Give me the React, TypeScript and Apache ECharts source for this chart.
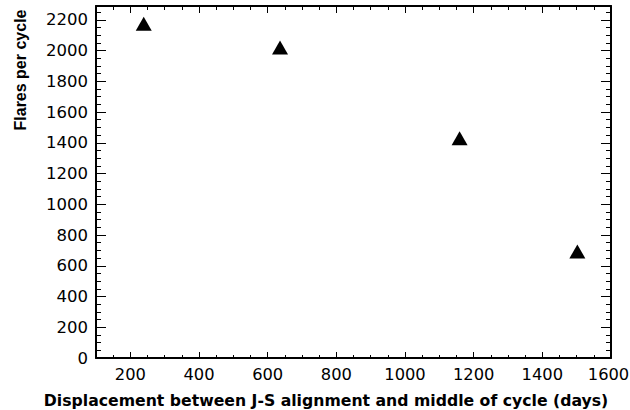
import React, { useEffect, useRef } from "react";
import * as echarts from "echarts";

// Data
const displacementDays = [239, 636, 1159, 1502];
const flaresPerCycle = [2175, 2020, 1430, 693];

const X_MIN = 100;
const X_MAX = 1600;
const Y_MIN = 0;
const Y_MAX = 2290;
const Y_MAJOR = 200;
const MINOR = 50;

const X_TITLE = "Displacement between J-S alignment and middle of cycle (days)";
const Y_TITLE = "Flares per cycle";

const LABEL_FONT = "DejaVu Sans";

export default function App() {
  const ref = useRef<HTMLDivElement>(null);

  useEffect(() => {
    if (!ref.current) return;
    const chart = echarts.init(ref.current, undefined, { renderer: "svg" });

    const line = { show: true, onZero: false, lineStyle: { color: "#000", width: 2 } };
    const noLine = { show: false, onZero: false };
    const tick = (len: number) => ({ show: true, inside: true, length: len, lineStyle: { color: "#000", width: 1 } });
    const noLabel = { show: false };
    const plain = (v: number) => String(v);
    const xLabel = (v: number) => (v >= X_MAX ? `{last|${v}}` : String(v));

    const xBase = { type: "value" as const, min: X_MIN, max: X_MAX, splitLine: { show: false }, gridIndex: 0 };
    const yBase = { type: "value" as const, min: Y_MIN, max: Y_MAX, splitLine: { show: false }, gridIndex: 0 };

    const data = displacementDays.map((x, i) => [x, flaresPerCycle[i]]);

    chart.setOption({
      animation: false,
      backgroundColor: "#fff",
      grid: { left: 96, right: 19, top: 6, bottom: 52, containLabel: false, outerBoundsMode: "none" },
      xAxis: [
        {
          ...xBase,
          position: "bottom",
          splitNumber: 7,
          axisLine: line,
          axisTick: tick(6),
          axisLabel: {
            show: true,
            showMinLabel: false,
            showMaxLabel: true,
            hideOverlap: false,
            formatter: xLabel,
            fontSize: 16.3,
            fontFamily: LABEL_FONT,
            color: "#000",
            margin: 8,
            rich: {
              last: {
                fontSize: 16.3,
                fontFamily: LABEL_FONT,
                color: "#000",
                padding: [0, 5, 0, 0],
              },
            },
          },
        },
        { ...xBase, position: "bottom", interval: MINOR, axisLine: noLine, axisTick: tick(3), axisLabel: noLabel },
        { ...xBase, position: "top", splitNumber: 7, axisLine: line, axisTick: tick(7), axisLabel: noLabel },
        { ...xBase, position: "top", interval: MINOR, axisLine: noLine, axisTick: tick(4), axisLabel: noLabel },
      ],
      yAxis: [
        {
          ...yBase,
          position: "left",
          interval: Y_MAJOR,
          axisLine: line,
          axisTick: tick(10),
          axisLabel: {
            show: true,
            showMaxLabel: false,
            formatter: plain,
            fontSize: 16.5,
            fontFamily: LABEL_FONT,
            color: "#000",
            margin: 8,
          },
        },
        { ...yBase, position: "left", interval: MINOR, axisLine: noLine, axisTick: tick(5), axisLabel: noLabel },
        { ...yBase, position: "right", interval: Y_MAJOR, axisLine: line, axisTick: tick(10), axisLabel: noLabel },
        { ...yBase, position: "right", interval: MINOR, axisLine: noLine, axisTick: tick(5), axisLabel: noLabel },
      ],
      series: [
        {
          type: "scatter",
          xAxisIndex: 0,
          yAxisIndex: 0,
          data,
          symbol: "triangle",
          symbolSize: [16, 14],
          itemStyle: { color: "#000", opacity: 1 },
          emphasis: { disabled: true },
        },
      ],
      graphic: [
        {
          type: "text",
          x: 326,
          y: 400,
          style: {
            text: X_TITLE,
            fontSize: 15.7,
            fontWeight: "bold",
            fontFamily: LABEL_FONT,
            fill: "#000",
            align: "center",
            verticalAlign: "middle",
          },
        },
        {
          type: "text",
          x: 20,
          y: 70,
          rotation: Math.PI / 2,
          style: {
            text: Y_TITLE,
            fontSize: 16,
            fontWeight: "bold",
            fontFamily: "Liberation Sans",
            fill: "#000",
            align: "center",
            verticalAlign: "middle",
          },
        },
      ],
    });

    return () => chart.dispose();
  }, []);

  return (
    <div
      ref={ref}
      style={{ position: "fixed", left: 0, top: 0, width: 630, height: 410, background: "#fff" }}
    />
  );
}
